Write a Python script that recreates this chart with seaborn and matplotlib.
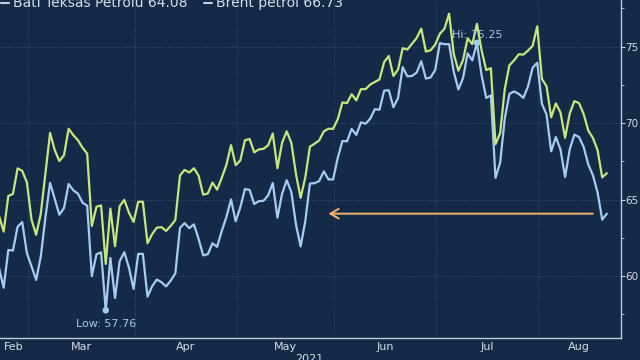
import numpy as np
import pandas as pd
import matplotlib
matplotlib.use("Agg")
import matplotlib.pyplot as plt
from matplotlib.lines import Line2D
import seaborn as sns

# iş günleri (tatiller önceki günün değeriyle)
dates = pd.bdate_range("2021-02-18", "2021-08-20")

wti_feb = [60.52, 59.24, 61.70, 61.67, 63.22, 63.53, 61.50]
wti_mar = [60.64, 59.75, 61.28, 63.83, 66.09, 65.05, 64.01, 64.44, 66.02, 65.61, 65.39, 64.80,
           64.60, 60.00, 61.42, 61.55, 57.76, 61.18, 58.56, 60.97, 61.56, 60.55, 59.16]
wti_apr = [61.45, 61.45, 58.65, 59.33, 59.77, 59.60, 59.32, 59.70, 60.18, 63.15, 63.46, 63.13,
           63.38, 62.44, 61.35, 61.43, 62.14, 61.91, 62.94, 63.86, 65.01, 63.58]
wti_may = [64.49, 65.69, 65.63, 64.71, 64.90, 64.92, 65.28, 66.08, 63.82, 65.37, 66.27, 65.49,
           63.36, 61.94, 63.58, 66.05, 66.07, 66.21, 66.85, 66.32, 66.32]
wti_jun = [67.72, 68.83, 68.81, 69.62, 69.23, 70.05, 69.96, 70.29, 70.91, 70.88, 72.12, 72.15,
           71.04, 71.64, 73.66, 73.06, 73.08, 73.30, 74.05, 72.91, 72.98, 73.47]
wti_jul = [75.23, 75.16, 75.16, 73.37, 72.20, 72.94, 74.56, 74.10, 75.25, 73.13, 71.65, 71.81,
           66.42, 67.42, 70.30, 71.91, 72.07, 71.91, 71.65, 72.39, 73.62, 73.95]
wti_aug = [71.26, 70.56, 68.15, 69.09, 68.28, 66.48, 68.29, 69.25, 69.09, 68.44, 67.29, 66.59,
           65.46, 63.69, 64.08]

brent_feb = [63.93, 62.91, 65.24, 65.37, 67.04, 66.88, 66.13]
brent_mar = [63.69, 62.70, 64.07, 66.74, 69.36, 68.24, 67.52, 67.90, 69.63, 69.22, 68.88, 68.39,
             68.00, 63.28, 64.53, 64.62, 60.79, 64.41, 61.95, 64.57, 64.98, 64.14, 63.54]
brent_apr = [64.86, 64.86, 62.15, 62.74, 63.16, 63.20, 62.95, 63.28, 63.67, 66.58, 66.94, 66.77,
             67.05, 66.57, 65.32, 65.40, 66.11, 65.65, 66.42, 67.27, 68.56, 67.25]
brent_may = [67.56, 68.88, 68.96, 68.09, 68.28, 68.32, 68.55, 69.32, 67.05, 68.71, 69.46, 68.71,
             66.66, 65.11, 66.44, 68.46, 68.65, 68.87, 69.46, 69.63, 69.63]
brent_jun = [70.25, 71.35, 71.31, 71.89, 71.49, 72.22, 72.22, 72.52, 72.69, 72.86, 73.99, 74.39,
             73.08, 73.51, 74.90, 74.81, 75.19, 75.56, 76.18, 74.68, 74.76, 75.13]
brent_jul = [75.84, 76.17, 77.16, 74.53, 73.43, 74.12, 75.55, 75.16, 76.49, 74.76, 73.47, 73.59,
             68.62, 69.35, 72.23, 73.79, 74.10, 74.50, 74.48, 74.74, 75.05, 76.33]
brent_aug = [72.89, 72.41, 70.38, 71.29, 70.70, 69.04, 70.63, 71.44, 71.31, 70.59, 69.51, 69.03,
             68.23, 66.45, 66.73]

wti = wti_feb + wti_mar + wti_apr + wti_may + wti_jun + wti_jul + wti_aug
brent = brent_feb + brent_mar + brent_apr + brent_may + brent_jun + brent_jul + brent_aug

month_labels = ["Feb", "Mar", "Apr", "May", "Jun", "Jul", "Aug"]
y_ticks = [60, 65, 70, 75]
arrow_from, arrow_to = "2021-08-17", "2021-05-28"

df = pd.DataFrame({"i": np.arange(len(dates)), "date": dates, "WTI": wti, "Brent": brent})
long = df.melt(id_vars=["i", "date"], value_vars=["WTI", "Brent"], var_name="seri", value_name="fiyat")

bg = "#142A48"
blue = "#A3CDF2"
green = "#C8E67A"
orange = "#F2B36E"
txt = "#D5DDE6"
gridc = "#365070"
spinec = "#C0CAD6"

sns.set_style("dark", {"axes.facecolor": bg, "figure.facecolor": bg})
plt.rcParams["font.family"] = ["DejaVu Sans"]

fig = plt.figure(figsize=(6.4, 3.6), dpi=100)
ax = fig.add_axes([0, 21.7 / 360, 620.5 / 640, 338.3 / 360])

sns.lineplot(data=long, x="i", y="fiyat", hue="seri", hue_order=["WTI", "Brent"],
             palette={"WTI": blue, "Brent": green}, linewidth=1.6, errorbar=None,
             legend=False, ax=ax)

x0, x1 = 0.21, 133.94
ax.set_xlim(x0, x1)
ax.set_ylim(55.93, 78.05)

# ay sınırları
first_idx = df.groupby(df["date"].dt.month)["i"].min().values[1:]
bounds = list(first_idx - 0.8)
edges = [x0] + bounds + [x1]
mids = [(a + b) / 2 for a, b in zip(edges[:-1], edges[1:])]
ax.set_xticks(bounds)
ax.set_xticklabels([])
ax.set_xticks(mids, minor=True)
ax.set_xticklabels(month_labels, minor=True)
ax.tick_params(axis="x", which="major", length=3, direction="inout", color=spinec)
ax.tick_params(axis="x", which="minor", length=0, pad=3, labelsize=8, labelcolor=txt)

ax.yaxis.tick_right()
ax.set_yticks(y_ticks)
ax.set_yticks([57.5, 62.5, 67.5, 72.5, 77.5], minor=True)
ax.tick_params(axis="y", which="major", length=3, direction="out", color=spinec,
               labelsize=7.5, labelcolor=txt, pad=0.5)
ax.tick_params(axis="y", which="minor", length=2.5, direction="out", color=spinec)

ax.grid(True, which="major", color=gridc, linestyle=":", linewidth=0.7)
ax.set_xlabel("")
ax.set_ylabel("")
for s in ["left", "top"]:
    ax.spines[s].set_visible(False)
for s in ["right", "bottom"]:
    ax.spines[s].set_visible(True)
    ax.spines[s].set_color(spinec)
    ax.spines[s].set_linewidth(1)

# en düşük / en yüksek
lo = int(np.argmin(wti))
hi = int(np.argmax(wti))
sns.scatterplot(x=[lo, hi], y=[wti[lo], wti[hi]], color=blue, s=22, edgecolor="none", ax=ax, zorder=5)
ax.annotate(f"Low: {wti[lo]:.2f}", (lo, wti[lo]), xytext=(0, -6), textcoords="offset points",
            ha="center", va="top", fontsize=8, color="#A9C6E4")
ax.annotate(f"Hi: {wti[hi]:.2f}", (hi, wti[hi]), xytext=(0, 2), textcoords="offset points",
            ha="center", va="bottom", fontsize=8, color="#A9C6E4")

# son fiyat oku
ia = df.loc[df["date"] == arrow_from, "i"].iloc[0]
ib = df.loc[df["date"] == arrow_to, "i"].iloc[0]
ax.annotate("", xy=(ib, wti[-1]), xytext=(ia, wti[-1]),
            arrowprops=dict(arrowstyle="->,head_length=0.6,head_width=0.35", color=orange,
                            lw=1.4, shrinkA=0, shrinkB=0))

# üst lejant (üstten kırpılmış)
fig.add_artist(Line2D([1 / 640, 9 / 640], [1 - 3 / 360, 1 - 3 / 360], color="#C8D2DC", lw=1.5))
fig.text(13 / 640, 1 - 7 / 360, f"Batı Teksas Petrolü {wti[-1]:.2f}", fontsize=10, color=txt,
         va="baseline", ha="left")
fig.add_artist(Line2D([204 / 640, 212 / 640], [1 - 3 / 360, 1 - 3 / 360], color="#C8D2DC", lw=1.5))
fig.text(216 / 640, 1 - 7 / 360, f"Brent petrol {brent[-1]:.2f}", fontsize=10, color=txt,
         va="baseline", ha="left")

fig.text(309 / 640, 1 / 360, "2021", fontsize=8, color=txt, ha="center", va="center")

fig.savefig("out.png", dpi=100, facecolor=bg)
